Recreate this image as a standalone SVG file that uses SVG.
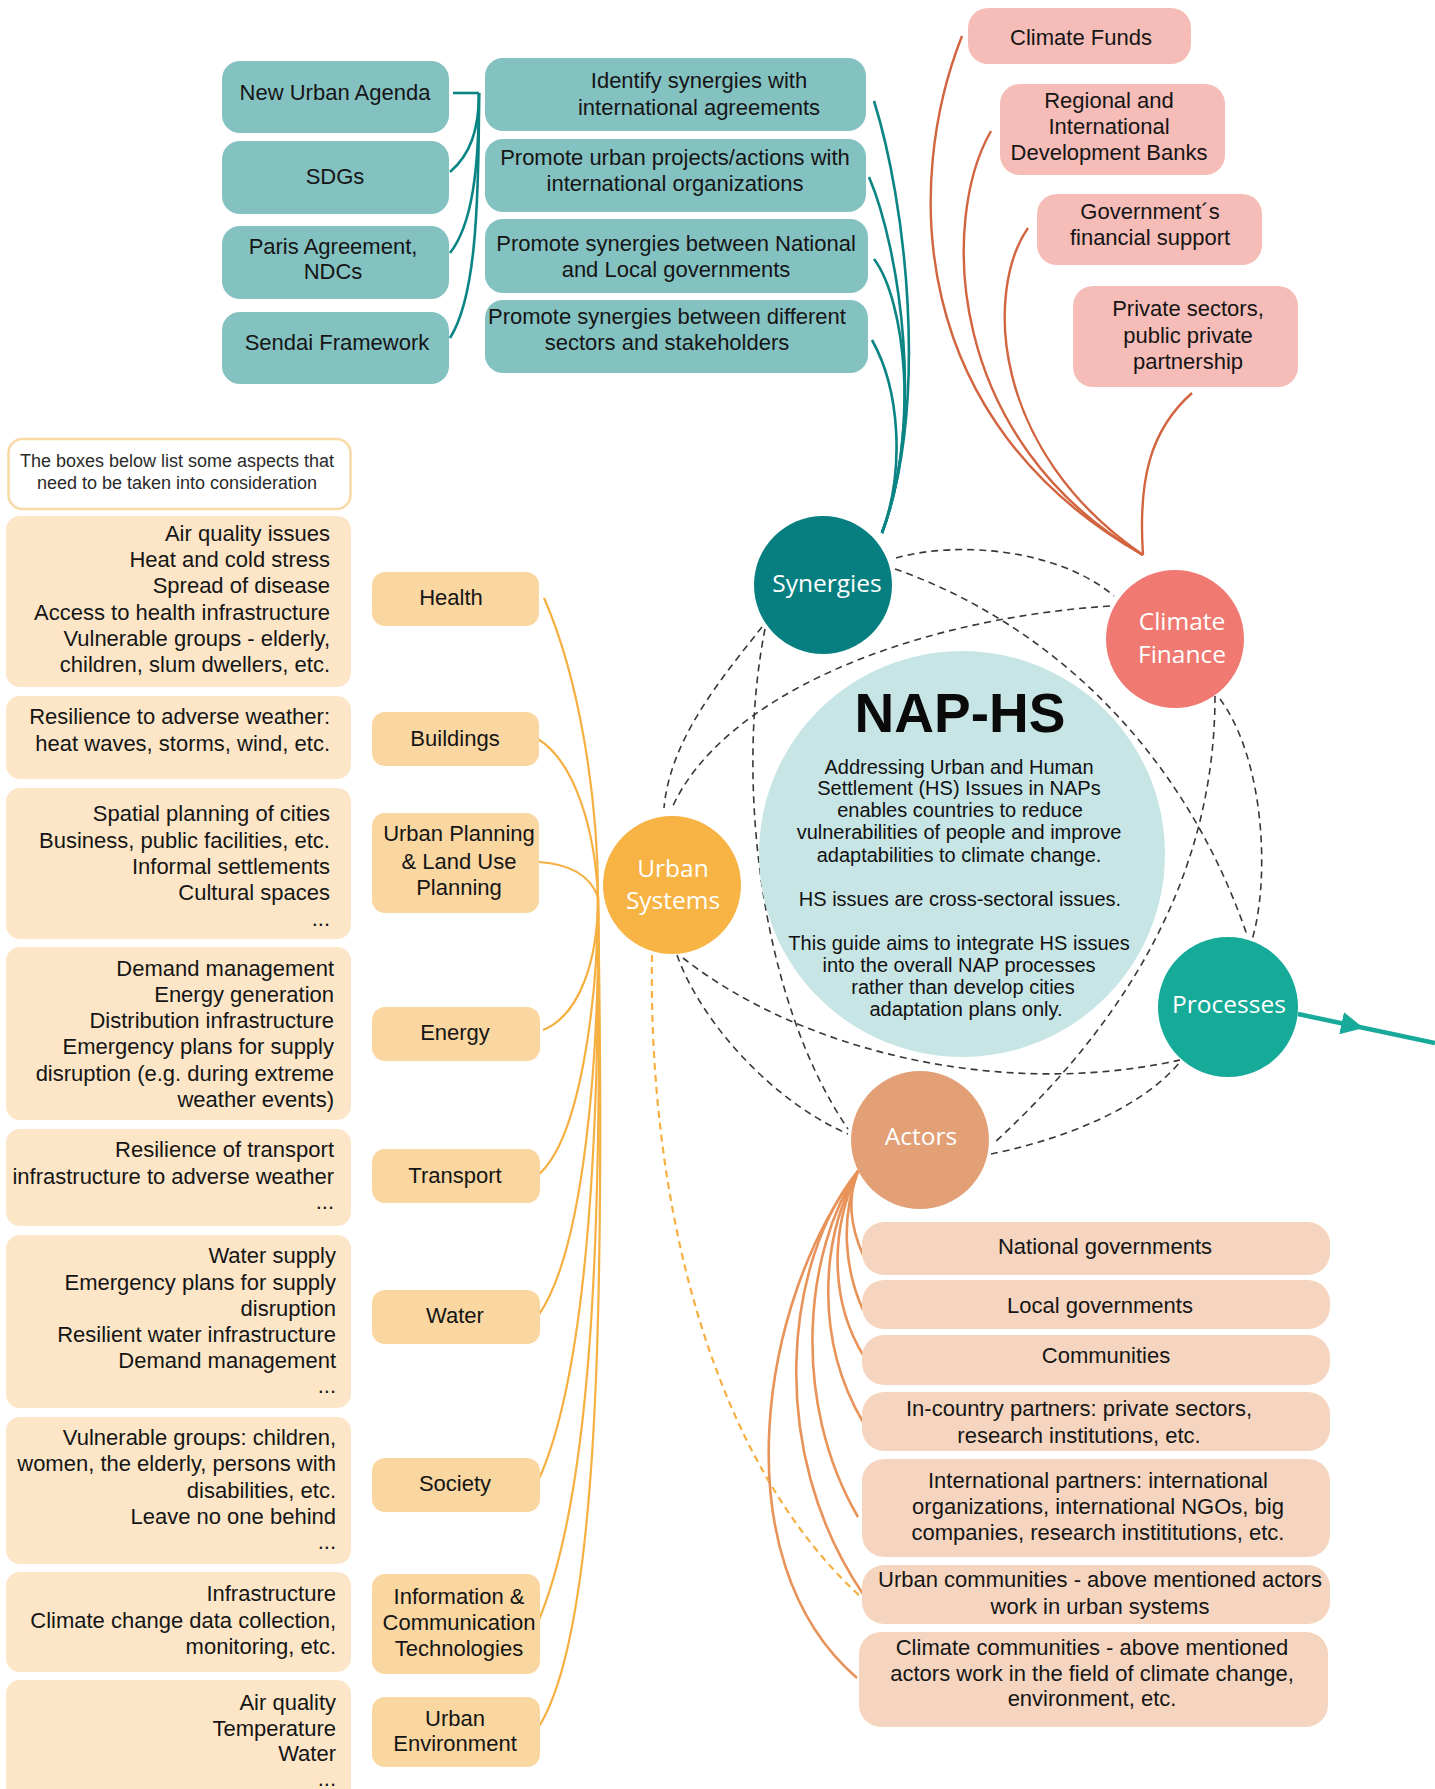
<svg xmlns="http://www.w3.org/2000/svg" width="1435" height="1789" viewBox="0 0 1435 1789">
<defs>
<style>
.t{font-family:"Liberation Sans",Arial,Helvetica,sans-serif;font-size:22px;fill:#151515}
.m{text-anchor:middle}
.e{text-anchor:end}
.note{font-family:"Liberation Sans",Arial,sans-serif;font-size:18px;fill:#2a2a2a;text-anchor:middle}
.nap{font-family:"Liberation Sans",Arial,sans-serif;font-size:20px;fill:#111;text-anchor:middle}
.c{font-family:"Open Sans","Noto Sans",sans-serif;font-size:24.5px;fill:#fff;text-anchor:middle}
.tealbox{fill:#84c1c1}
.pinkbox{fill:#f6bcb7}
.detail{fill:#fce6c7}
.label{fill:#fad6a0}
.actbox{fill:#f5d5bf}
.tl{fill:none;stroke:#0b8484;stroke-width:2.6}
.cf{fill:none;stroke:#d2643f;stroke-width:2.4}
.us{fill:none;stroke:#f6b042;stroke-width:2.2}
.ac{fill:none;stroke:#e8935a;stroke-width:2.6}
.dash{fill:none;stroke:#383838;stroke-width:1.6;stroke-dasharray:7 5}
.odash{fill:none;stroke:#f6b042;stroke-width:2.2;stroke-dasharray:7 5}
</style>
<marker id="arr" viewBox="0 0 10 10" refX="7" refY="5" markerWidth="5" markerHeight="5" markerUnits="strokeWidth" orient="auto">
<path d="M0,0 L10,5 L0,10 z" fill="#17a999"/>
</marker>
</defs>
<rect width="1435" height="1789" fill="#fff"/>

<g id="connectors">
<path class="tl" d="M453,93 L479,93"/>
<path class="tl" d="M479,93 C479,130 470,155 450,172"/>
<path class="tl" d="M479,93 C479,170 472,225 450,253"/>
<path class="tl" d="M479,93 C479,220 474,300 450,338"/>
<path class="tl" d="M874,101 C905,200 930,400 882,533"/>
<path class="tl" d="M869,177 C900,250 925,420 882,533"/>
<path class="tl" d="M874,259 C905,300 920,430 882,533"/>
<path class="tl" d="M872,340 C900,390 905,470 882,533"/>
<path class="cf" d="M962,36 C905,180 905,420 1143,555"/>
<path class="cf" d="M991,131 C940,220 945,440 1143,555"/>
<path class="cf" d="M1028,228 C985,290 990,450 1143,555"/>
<path class="cf" d="M1192,393 C1150,430 1138,480 1143,555"/>
<path class="us" d="M544,598 C580,680 598,800 598,897"/>
<path class="us" d="M538,739 C575,762 595,830 598,897"/>
<path class="us" d="M539,862 C570,864 590,875 598,897"/>
<path class="us" d="M543,1030 C580,1015 598,960 598,897"/>
<path class="us" d="M538,1175 C580,1140 598,1000 598,897"/>
<path class="us" d="M538,1316 C585,1250 600,1050 598,897"/>
<path class="us" d="M538,1481 C585,1380 600,1150 598,897"/>
<path class="us" d="M538,1622 C590,1500 603,1250 598,897"/>
<path class="us" d="M538,1728 C595,1640 606,1350 598,897"/>
<path class="odash" d="M652,955 C648,1200 710,1460 862,1598"/>
<path class="ac" d="M858,1171 C846,1200 852,1230 863,1255"/>
<path class="ac" d="M858,1171 C840,1220 845,1270 863,1310"/>
<path class="ac" d="M858,1171 C830,1230 830,1300 863,1355"/>
<path class="ac" d="M858,1171 C820,1240 815,1340 863,1422"/>
<path class="ac" d="M858,1171 C805,1250 790,1400 858,1517"/>
<path class="ac" d="M858,1171 C785,1260 765,1450 863,1594"/>
<path class="ac" d="M858,1171 C760,1300 720,1560 857,1678"/>
<path class="dash" d="M896,558 C960,540 1060,550 1114,596"/>
<path class="dash" d="M895,569 C1040,620 1180,740 1247,935"/>
<path class="dash" d="M1215,696 C1215,850 1150,1000 994,1143"/>
<path class="dash" d="M1220,699 C1265,760 1270,880 1252,940"/>
<path class="dash" d="M1110,606 C900,620 720,700 672,808"/>
<path class="dash" d="M762,627 C720,680 670,740 664,808"/>
<path class="dash" d="M765,629 C735,780 760,1000 848,1129"/>
<path class="dash" d="M677,955 C700,1020 770,1100 848,1134"/>
<path class="dash" d="M683,958 C800,1050 1000,1100 1180,1060"/>
<path class="dash" d="M991,1154 C1060,1140 1140,1110 1180,1062"/>
<path d="M1298,1014 L1357,1026.5 L1435,1043" fill="none" stroke="#17a999" stroke-width="4.5" marker-mid="url(#arr)"/>
</g>

<g id="nap-hs">
<circle cx="962" cy="854" r="203" fill="#c8e5e6"/>
<text x="960" y="732" font-family="Liberation Sans,Arial,sans-serif" font-weight="bold" font-size="55" text-anchor="middle" fill="#0a0a0a">NAP-HS</text>
<text class="nap" x="959" y="774">Addressing Urban and Human</text>
<text class="nap" x="959" y="795">Settlement (HS) Issues in NAPs</text>
<text class="nap" x="960" y="817">enables countries to reduce</text>
<text class="nap" x="959" y="839">vulnerabilities of people and improve</text>
<text class="nap" x="959" y="862">adaptabilities to climate change.</text>
<text class="nap" x="960" y="906">HS issues are cross-sectoral issues.</text>
<text class="nap" x="959" y="950">This guide aims to integrate HS issues</text>
<text class="nap" x="959" y="972">into the overall NAP processes</text>
<text class="nap" x="963" y="994">rather than develop cities</text>
<text class="nap" x="966" y="1016">adaptation plans only.</text>
</g>

<g id="synergies"><circle cx="823" cy="585" r="69" fill="#077f80"/><text class="c" x="827" y="592">Synergies</text></g>
<g id="climate-finance"><circle cx="1175" cy="639" r="69" fill="#f07a72"/><text class="c" x="1182" y="630">Climate</text><text class="c" x="1182" y="663">Finance</text></g>
<g id="urban-systems"><circle cx="672" cy="885" r="69" fill="#f7b343"/><text class="c" x="673" y="877">Urban</text><text class="c" x="673" y="909">Systems</text></g>
<g id="processes"><circle cx="1228" cy="1007" r="70" fill="#16aa99"/><text class="c" x="1229" y="1013">Processes</text></g>
<g id="actors"><circle cx="920" cy="1140" r="69" fill="#e3a077"/><text class="c" x="921" y="1145">Actors</text></g>

<g id="new-urban-agenda"><rect class="tealbox" x="222" y="61" width="227" height="72" rx="18"/><text class="t m" x="335" y="100">New Urban Agenda</text></g>
<g id="sdgs"><rect class="tealbox" x="222" y="141" width="227" height="73" rx="18"/><text class="t m" x="335" y="184">SDGs</text></g>
<g id="paris"><rect class="tealbox" x="222" y="226" width="227" height="73" rx="18"/><text class="t m" x="333" y="254">Paris Agreement,</text><text class="t m" x="333" y="279">NDCs</text></g>
<g id="sendai"><rect class="tealbox" x="222" y="312" width="227" height="72" rx="18"/><text class="t m" x="337" y="350">Sendai Framework</text></g>

<g id="identify"><rect class="tealbox" x="485" y="58" width="381" height="73" rx="18"/><text class="t m" x="699" y="88">Identify synergies with</text><text class="t m" x="699" y="115">international agreements</text></g>
<g id="promote-urban"><rect class="tealbox" x="485" y="139" width="381" height="73" rx="18"/><text class="t m" x="675" y="165">Promote urban projects/actions with</text><text class="t m" x="675" y="191">international organizations</text></g>
<g id="promote-national"><rect class="tealbox" x="485" y="219" width="383" height="74" rx="18"/><text class="t m" x="676" y="251">Promote synergies between National</text><text class="t m" x="676" y="277">and Local governments</text></g>
<g id="promote-different"><rect class="tealbox" x="485" y="300" width="383" height="73" rx="18"/><text class="t m" x="667" y="324">Promote synergies between different</text><text class="t m" x="667" y="350">sectors and stakeholders</text></g>

<g id="climate-funds"><rect class="pinkbox" x="968" y="8" width="223" height="56" rx="20"/><text class="t m" x="1081" y="45">Climate Funds</text></g>
<g id="dev-banks"><rect class="pinkbox" x="1000" y="84" width="225" height="91" rx="20"/><text class="t m" x="1109" y="108">Regional and</text><text class="t m" x="1109" y="134">International</text><text class="t m" x="1109" y="160">Development Banks</text></g>
<g id="gov-support"><rect class="pinkbox" x="1037" y="194" width="225" height="71" rx="20"/><text class="t m" x="1150" y="219">Government´s</text><text class="t m" x="1150" y="245">financial support</text></g>
<g id="private"><rect class="pinkbox" x="1073" y="286" width="225" height="101" rx="20"/><text class="t m" x="1188" y="316">Private sectors,</text><text class="t m" x="1188" y="343">public private</text><text class="t m" x="1188" y="369">partnership</text></g>

<g id="note"><rect x="8.5" y="439" width="342" height="70" rx="14" fill="#fff" stroke="#f9d9a6" stroke-width="2.5"/><text class="note" x="177" y="467">The boxes below list some aspects that</text><text class="note" x="177" y="489">need to be taken into consideration</text></g>

<g id="health-detail"><rect class="detail" x="6" y="516" width="345" height="171" rx="14"/>
<text class="t e" x="330" y="541">Air quality issues</text><text class="t e" x="330" y="567">Heat and cold stress</text><text class="t e" x="330" y="593">Spread of disease</text><text class="t e" x="330" y="620">Access to health infrastructure</text><text class="t e" x="330" y="646">Vulnerable groups - elderly,</text><text class="t e" x="330" y="672">children, slum dwellers, etc.</text></g>
<g id="buildings-detail"><rect class="detail" x="6" y="696" width="345" height="83" rx="14"/>
<text class="t e" x="330" y="724">Resilience to adverse weather:</text><text class="t e" x="330" y="751">heat waves, storms, wind, etc.</text></g>
<g id="planning-detail"><rect class="detail" x="6" y="788" width="345" height="151" rx="14"/>
<text class="t e" x="330" y="821">Spatial planning of cities</text><text class="t e" x="330" y="848">Business, public facilities, etc.</text><text class="t e" x="330" y="874">Informal settlements</text><text class="t e" x="330" y="900">Cultural spaces</text><text class="t e" x="330" y="926">...</text></g>
<g id="energy-detail"><rect class="detail" x="6" y="947" width="345" height="173" rx="14"/>
<text class="t e" x="334" y="976">Demand management</text><text class="t e" x="334" y="1002">Energy generation</text><text class="t e" x="334" y="1028">Distribution infrastructure</text><text class="t e" x="334" y="1054">Emergency plans for supply</text><text class="t e" x="334" y="1081">disruption (e.g. during extreme</text><text class="t e" x="334" y="1107">weather events)</text></g>
<g id="transport-detail"><rect class="detail" x="6" y="1129" width="345" height="97" rx="14"/>
<text class="t e" x="334" y="1157">Resilience of transport</text><text class="t e" x="334" y="1184">infrastructure to adverse weather</text><text class="t e" x="334" y="1209">...</text></g>
<g id="water-detail"><rect class="detail" x="6" y="1235" width="345" height="173" rx="14"/>
<text class="t e" x="336" y="1263">Water supply</text><text class="t e" x="336" y="1290">Emergency plans for supply</text><text class="t e" x="336" y="1316">disruption</text><text class="t e" x="336" y="1342">Resilient water infrastructure</text><text class="t e" x="336" y="1368">Demand management</text><text class="t e" x="336" y="1393">...</text></g>
<g id="society-detail"><rect class="detail" x="6" y="1417" width="345" height="147" rx="14"/>
<text class="t e" x="336" y="1445">Vulnerable groups: children,</text><text class="t e" x="336" y="1471">women, the elderly, persons with</text><text class="t e" x="336" y="1498">disabilities, etc.</text><text class="t e" x="336" y="1524">Leave no one behind</text><text class="t e" x="336" y="1549">...</text></g>
<g id="ict-detail"><rect class="detail" x="6" y="1572" width="345" height="100" rx="14"/>
<text class="t e" x="336" y="1601">Infrastructure</text><text class="t e" x="336" y="1628">Climate change data collection,</text><text class="t e" x="336" y="1654">monitoring, etc.</text></g>
<g id="environment-detail"><rect class="detail" x="6" y="1680" width="345" height="125" rx="14"/>
<text class="t e" x="336" y="1710">Air quality</text><text class="t e" x="336" y="1736">Temperature</text><text class="t e" x="336" y="1761">Water</text><text class="t e" x="336" y="1786">...</text></g>

<g id="health"><rect class="label" x="372" y="572" width="167" height="54" rx="13"/><text class="t m" x="451" y="605">Health</text></g>
<g id="buildings"><rect class="label" x="372" y="712" width="167" height="54" rx="13"/><text class="t m" x="455" y="746">Buildings</text></g>
<g id="urban-planning"><rect class="label" x="372" y="813" width="167" height="100" rx="13"/><text class="t m" x="459" y="841">Urban Planning</text><text class="t m" x="459" y="869">&amp; Land Use</text><text class="t m" x="459" y="895">Planning</text></g>
<g id="energy"><rect class="label" x="372" y="1007" width="168" height="54" rx="13"/><text class="t m" x="455" y="1040">Energy</text></g>
<g id="transport"><rect class="label" x="372" y="1149" width="168" height="54" rx="13"/><text class="t m" x="455" y="1183">Transport</text></g>
<g id="water"><rect class="label" x="372" y="1290" width="168" height="54" rx="13"/><text class="t m" x="455" y="1323">Water</text></g>
<g id="society"><rect class="label" x="372" y="1458" width="168" height="54" rx="13"/><text class="t m" x="455" y="1491">Society</text></g>
<g id="ict"><rect class="label" x="372" y="1574" width="168" height="100" rx="13"/><text class="t m" x="459" y="1604">Information &amp;</text><text class="t m" x="459" y="1630">Communication</text><text class="t m" x="459" y="1656">Technologies</text></g>
<g id="urban-environment"><rect class="label" x="372" y="1697" width="168" height="70" rx="13"/><text class="t m" x="455" y="1726">Urban</text><text class="t m" x="455" y="1751">Environment</text></g>

<g id="national-gov"><rect class="actbox" x="862" y="1222" width="468" height="53" rx="22"/><text class="t m" x="1105" y="1254">National governments</text></g>
<g id="local-gov"><rect class="actbox" x="862" y="1280" width="468" height="49" rx="22"/><text class="t m" x="1100" y="1313">Local governments</text></g>
<g id="communities"><rect class="actbox" x="862" y="1335" width="468" height="50" rx="22"/><text class="t m" x="1106" y="1363">Communities</text></g>
<g id="in-country"><rect class="actbox" x="862" y="1392" width="468" height="59" rx="22"/><text class="t m" x="1079" y="1416">In-country partners: private sectors,</text><text class="t m" x="1079" y="1443">research institutions, etc.</text></g>
<g id="international"><rect class="actbox" x="862" y="1459" width="468" height="98" rx="22"/><text class="t m" x="1098" y="1488">International partners: international</text><text class="t m" x="1098" y="1514">organizations, international NGOs, big</text><text class="t m" x="1098" y="1540">companies, research instititutions, etc.</text></g>
<g id="urban-communities"><rect class="actbox" x="862" y="1565" width="468" height="59" rx="22"/><text class="t m" x="1100" y="1587">Urban communities - above mentioned actors</text><text class="t m" x="1100" y="1614">work in urban systems</text></g>
<g id="climate-communities"><rect class="actbox" x="859" y="1632" width="469" height="95" rx="22"/><text class="t m" x="1092" y="1655">Climate communities - above mentioned</text><text class="t m" x="1092" y="1681">actors work in the field of climate change,</text><text class="t m" x="1092" y="1706">environment, etc.</text></g>
</svg>
